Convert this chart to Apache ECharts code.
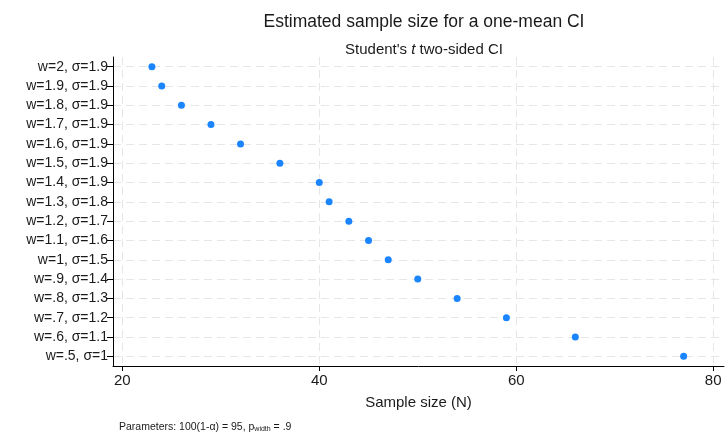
<!DOCTYPE html>
<html>
<head>
<meta charset="utf-8">
<script src="https://cdn.jsdelivr.net/npm/echarts@6/dist/echarts.min.js"></script>
<style>html,body{margin:0;padding:0;background:#fff}#c{width:726px;height:432px}</style>
</head>
<body>
<div id="c"></div>
<script>
var categories = ["w=2, σ=1.9","w=1.9, σ=1.9","w=1.8, σ=1.9","w=1.7, σ=1.9","w=1.6, σ=1.9","w=1.5, σ=1.9","w=1.4, σ=1.9","w=1.3, σ=1.8","w=1.2, σ=1.7","w=1.1, σ=1.6","w=1, σ=1.5","w=.9, σ=1.4","w=.8, σ=1.3","w=.7, σ=1.2","w=.6, σ=1.1","w=.5, σ=1"];
var sampleSize = [23,24,26,29,32,36,40,41,43,45,47,50,54,59,66,77];
var xTicks = [20,40,60,80];

var font = '"Liberation Sans", Arial, Helvetica, sans-serif';
var chart = echarts.init(document.getElementById('c'), null, {renderer:'canvas'});
var dashed = {color:'#e6e6e6', width:1, type:[8,5]};
chart.setOption({
  animation:false,
  backgroundColor:'#fff',
  title:[
    {text:'Estimated sample size for a one-mean CI', left:419, top:8, textAlign:'center',
     textStyle:{fontFamily:font, fontSize:17.5, fontWeight:'normal', color:'#1a1a1a'}},
    {text:"{n|Student's }{i|t}{n| two-sided CI}", left:419, top:37, textAlign:'center',
     textStyle:{fontWeight:'normal', rich:{n:{fontFamily:font,fontSize:15,fontWeight:'normal',color:'#1a1a1a'},i:{fontFamily:font,fontSize:15,fontWeight:'normal',fontStyle:'italic',color:'#1a1a1a'}}}},
    {text:"{n|Parameters: 100(1-α) = 95, p}{s|width}{n| = .9}", left:114, top:417,
     textStyle:{fontWeight:'normal', rich:{n:{fontFamily:font,fontSize:10.5,fontWeight:'normal',color:'#1a1a1a'},s:{fontFamily:font,fontSize:7,fontWeight:'normal',color:'#1a1a1a',verticalAlign:'bottom',padding:[4,0,0,0]}}}}
  ],
  grid:{left:113, right:2, top:57, bottom:66, containLabel:false},
  xAxis:{
    type:'value', min:19.05, max:81.1,
    name:'Sample size (N)', nameLocation:'middle', nameGap:29,
    nameTextStyle:{fontFamily:font, fontSize:15, color:'#1a1a1a'},
    axisLine:{show:true, lineStyle:{color:'#000', width:1}},
    axisTick:{show:true, length:5, customValues:xTicks, lineStyle:{color:'#000'}},
    axisLabel:{customValues:xTicks, fontFamily:font, fontSize:15, color:'#1a1a1a', margin:7},
    splitLine:{show:true, lineStyle:dashed}
  },
  yAxis:{
    type:'category', data:categories, inverse:true, boundaryGap:true,
    axisLine:{show:true, lineStyle:{color:'#000', width:1}},
    axisTick:{show:true, alignWithLabel:true, length:6, lineStyle:{color:'#000'}},
    axisLabel:{fontFamily:font, fontSize:14, color:'#1a1a1a', margin:5},
    splitLine:{show:true, alignWithLabel:true, lineStyle:dashed}
  },
  series:[{
    type:'scatter', data:sampleSize, symbol:'circle', symbolSize:7,
    itemStyle:{color:'#1a85ff', opacity:1}
  }]
});
</script>
</body>
</html>
